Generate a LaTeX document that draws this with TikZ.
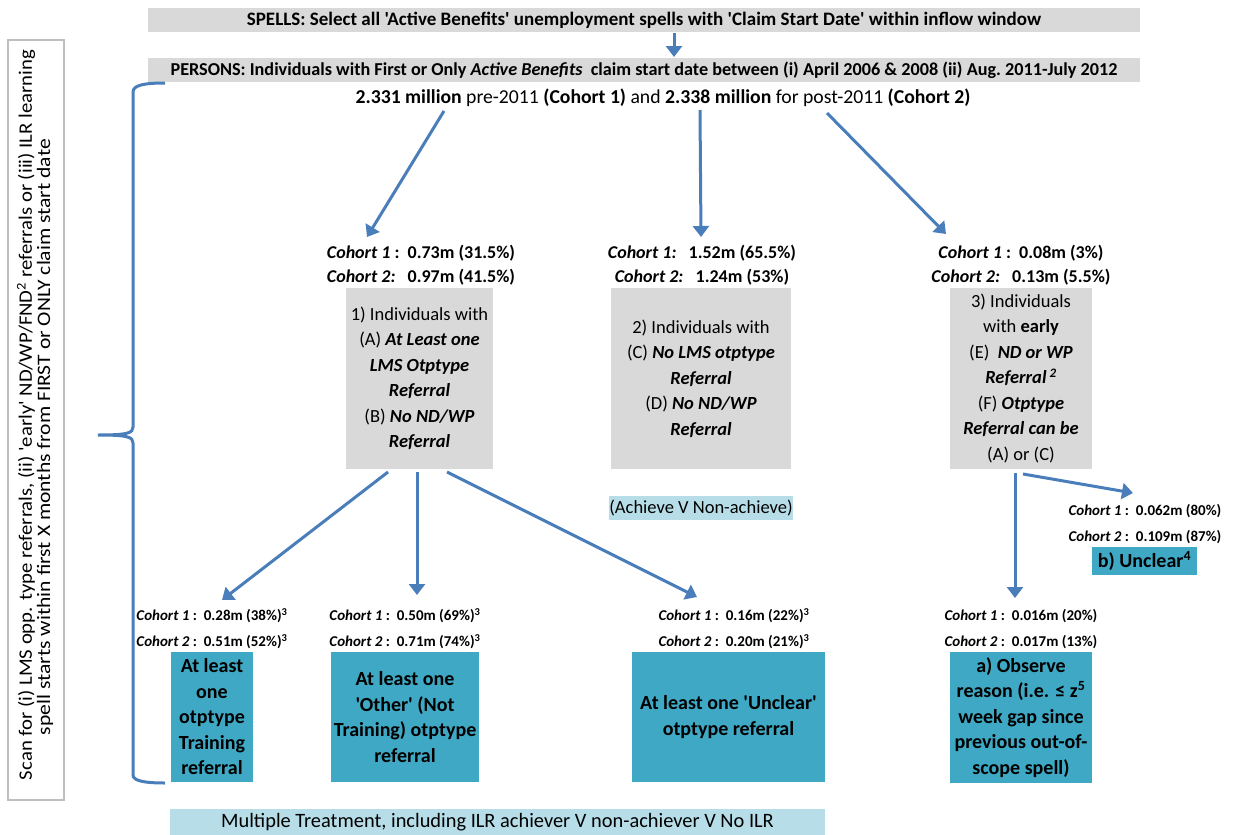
\documentclass[tikz,border=0pt]{standalone}
\usepackage{fontspec}
\setmainfont{Carlito}[Ligatures=TeXOff]
\usepackage{graphicx}
\usetikzlibrary{arrows.meta,calc}
\definecolor{boxgray}{HTML}{D9D9D9}
\definecolor{teal}{HTML}{3FA9C5}
\definecolor{lblue}{HTML}{B7DEE8}
\definecolor{arrblue}{HTML}{4A7EBB}
\definecolor{framegray}{HTML}{BFBFBF}
\tikzset{
  graybox/.style={fill=boxgray,draw=none,inner sep=0pt,align=center,font=\fontsize{18.5}{25.5}\selectfont},
  tealbox/.style={fill=teal,draw=none,inner sep=0pt,align=center,font=\fontsize{20}{25.5}\selectfont\bfseries},
  bar/.style={fill=boxgray,draw=none,inner sep=0pt,minimum width=992pt,minimum height=24pt},
  lbbar/.style={fill=lblue,draw=none,inner sep=0pt,font=\fontsize{18.5}{22}\selectfont},
  coh/.style={inner sep=0pt,align=center,font=\fontsize{18}{24}\selectfont\bfseries},
  cohs/.style={inner sep=0pt,align=center,font=\fontsize{15}{26}\selectfont\bfseries},
  arr/.style={draw=arrblue,line width=3pt,-{Triangle[width=16pt,length=11pt]}},
  bracestyle/.style={draw=arrblue,line width=3pt}
}
\begin{document}
\begin{tikzpicture}[x=1pt,y=-1pt]
\useasboundingbox (0,0) rectangle (1240,835);
\fill[white] (0,0) rectangle (1240,835);

% left scan box
\node[draw=framegray,line width=1.2pt,minimum width=56pt,minimum height=760pt,inner sep=0pt] (scanbox) at (36,420) {};
\node[rotate=90,inner sep=0pt,font=\fontsize{19}{22}\selectfont] (scan1) at (26,415)
  {\resizebox{730pt}{\height}{Scan for (i) LMS opp. type referrals, (ii) 'early' ND/WP/FND\textsuperscript{2} referrals or (iii) ILR learning}};
\node[rotate=90,inner sep=0pt,font=\fontsize{19}{22}\selectfont] (scan2) at (45,437)
  {\resizebox{596pt}{\height}{spell starts within first X months from FIRST or ONLY claim start date}};

% top bars
\node[bar,font=\fontsize{19}{20}\selectfont\bfseries] (spells) at (644,20)
  {SPELLS: Select all 'Active Benefits' unemployment spells with 'Claim Start Date' within inflow window};
\node[bar,font=\fontsize{18.2}{20}\selectfont\bfseries] (persons) at (644,70)
  {PERSONS: Individuals with First or Only \textit{Active Benefits}\ \ claim start date between (i) April 2006 \& 2008 (ii) Aug.\ 2011-July 2012};
\node[inner sep=0pt,font=\fontsize{19.7}{20}\selectfont] (line2) at (663,98)
  {\textbf{2.331 million} pre-2011 \textbf{(Cohort 1)} and \textbf{2.338 million} for post-2011 \textbf{(Cohort 2)}};

% cohort labels, level 1
\node[coh] (c1) at (421,265) {\textit{Cohort 1} :~~0.73m (31.5\%)\\\textit{Cohort 2:}~~~0.97m (41.5\%)};
\node[coh] (c2) at (702,265) {\textit{Cohort 1:}~~~1.52m (65.5\%)\\\textit{Cohort 2:}~~~1.24m (53\%)};
\node[coh] (c3) at (1021,265) {\textit{Cohort 1} :~~0.08m (3\%)\\\textit{Cohort 2:}~~~0.13m (5.5\%)};

% gray boxes
\node[graybox,minimum width=147pt,minimum height=181pt] (box1) at (419.5,378.5)
  {1) Individuals with\\(A) \textbf{\textit{At Least one}}\\\textbf{\textit{LMS Otptype}}\\\textbf{\textit{Referral}}\\(B) \textbf{\textit{No ND/WP}}\\\textbf{\textit{Referral}}};
\node[graybox,minimum width=180pt,minimum height=181pt] (box2) at (701,378.5)
  {2) Individuals with\\(C) \textbf{\textit{No LMS otptype}}\\\textbf{\textit{Referral}}\\(D) \textbf{\textit{No ND/WP}}\\\textbf{\textit{Referral}}};
\node[graybox,minimum width=142pt,minimum height=181pt] (box3) at (1021,378.5)
  {3) Individuals\\with \textbf{early}\\(E)~~\textbf{\textit{ND or WP}}\\\textbf{\textit{Referral\,\textsuperscript{2}}}\\(F) \textbf{\textit{Otptype}}\\\textbf{\textit{Referral can be}}\\(A) or (C)};

\node[lbbar,minimum width=180pt,minimum height=24pt] (ach) at (701,508) {(Achieve V Non-achieve)};

% level 2 labels
\node[cohs] (cU) at (1145,524) {\textit{Cohort 1} :~~0.062m (80\%)\\\textit{Cohort 2} :~~0.109m (87\%)};
\node[tealbox,minimum width=105pt,minimum height=28pt] (unclear) at (1144.5,561) {b) Unclear\textsuperscript{4}};

\node[cohs] (cA) at (212,629) {\textit{Cohort 1} :~~0.28m (38\%)\textsuperscript{3}\\\textit{Cohort 2} :~~0.51m (52\%)\textsuperscript{3}};
\node[cohs] (cB) at (405,629) {\textit{Cohort 1} :~~0.50m (69\%)\textsuperscript{3}\\\textit{Cohort 2} :~~0.71m (74\%)\textsuperscript{3}};
\node[cohs] (cC) at (734,629) {\textit{Cohort 1} :~~0.16m (22\%)\textsuperscript{3}\\\textit{Cohort 2} :~~0.20m (21\%)\textsuperscript{3}};
\node[cohs] (cD) at (1021,629) {\textit{Cohort 1} :~~0.016m (20\%)\\\textit{Cohort 2} :~~0.017m (13\%)};

% teal boxes
\node[tealbox,minimum width=82pt,minimum height=130pt] (boxA) at (212,717)
  {At least\\one\\otptype\\Training\\referral};
\node[tealbox,minimum width=148pt,minimum height=130pt] (boxB) at (405,717)
  {At least one\\'Other' (Not\\Training) otptype\\referral};
\node[tealbox,minimum width=193pt,minimum height=130pt] (boxC) at (728.5,717)
  {At least one 'Unclear'\\otptype referral};
\node[tealbox,minimum width=142pt,minimum height=131pt] (boxD) at (1021,717.5)
  {a) Observe\\reason (i.e. ≤ z\textsuperscript{5}\\week gap since\\previous out-of-\\scope spell)};

\node[lbbar,minimum width=655pt,minimum height=26pt,font=\fontsize{20.4}{22}\selectfont] (multi) at (497.5,822)
  {Multiple Treatment, including ILR achiever V non-achiever V No ILR};

% brace
\draw[bracestyle] (165,83) .. controls (145,83) and (133,85) .. (133,92) -- (133,427)
  .. controls (133,433) and (128,435) .. (98,435)
  .. controls (128,435) and (133,437) .. (133,443) -- (133,775)
  .. controls (133,781) and (145,783) .. (165,783);

% arrows
\draw[arr] ($(spells)+(30,13)$) -- ($(persons)+(30,-13)$);
\draw[arr] ($(line2)+(-219,13)$) -- ($(c1)+(-54,-28)$);
\draw[arr] ($(line2)+(37,12)$) -- ($(c2)+(-1,-28)$);
\draw[arr] ($(line2)+(164,15)$) -- ($(c3)+(-75,-31)$);
\draw[arr] ($(box1)+(-31.5,93.5)$) -- ($(cA)+(10,-29)$);
\draw[arr] ($(box1)+(-2.5,93.5)$) -- ($(cB)+(12,-34)$);
\draw[arr] ($(box1)+(27.5,93.5)$) -- ($(cC)+(-37,-32)$);
\draw[arr] ($(box3)+(-6,94.5)$) -- ($(cD)+(-6,-31)$);
\draw[arr] ($(box3)+(2,95.5)$) -- ($(cU)+(-12,-31)$);
\end{tikzpicture}
\end{document}
